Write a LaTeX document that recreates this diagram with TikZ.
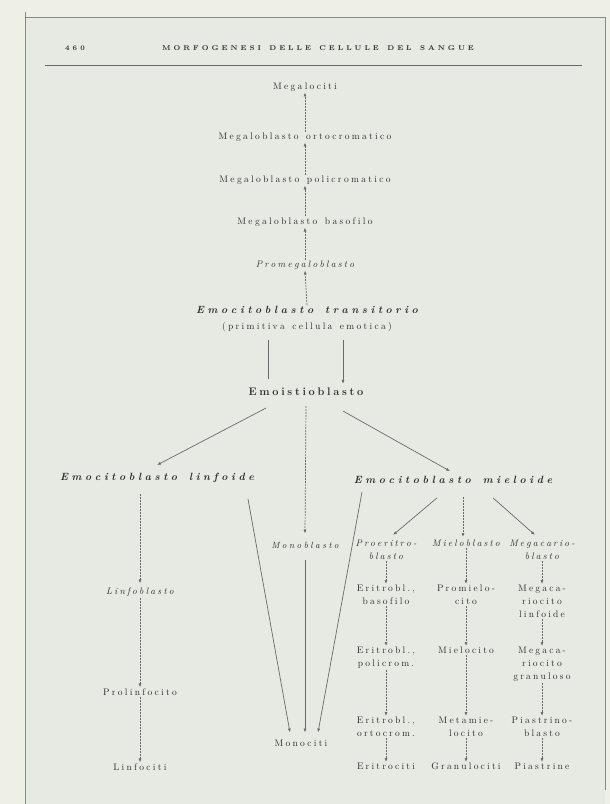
\documentclass[tikz,border=0pt]{standalone}
\usepackage{fontspec}
\usetikzlibrary{arrows.meta}
\definecolor{paper}{HTML}{E7EAE2}
\definecolor{margin}{HTML}{EEF0E6}
\definecolor{ink}{HTML}{2E2E2E}
\definecolor{rule}{HTML}{6A6A6A}
\def\lsamt{2pt}\def\lsgap{8pt}
\ExplSyntaxOn
\NewDocumentCommand\LS{m}{
  \seq_set_split:Nnn \l_tmpa_seq {~} {#1}
  \seq_map_indexed_inline:Nn \l_tmpa_seq
    { \int_compare:nNnT {##1} > {1} { \hspace{\lsgap} }
      \tl_map_inline:nn {##2} { ####1 \kern\lsamt } \kern-\lsamt }
}
\ExplSyntaxOff
\tikzset{
  base/.style={text=ink, inner sep=1pt},
  txt/.style={base, font=\fontsize{9.5}{13}\selectfont\def\lsamt{2.3pt}\def\lsgap{7.5pt}},
  itx/.style={base, font=\fontsize{9.5}{13}\selectfont\itshape\def\lsamt{2.2pt}\def\lsgap{7.5pt}},
  ttl/.style={base, font=\fontsize{10.5}{13}\selectfont\bfseries\itshape\def\lsamt{3.6pt}\def\lsgap{12pt}},
  bld/.style={base, font=\fontsize{11}{13}\selectfont\bfseries\def\lsamt{2.7pt}},
  sml/.style={base, anchor=north, align=center, font=\fontsize{9.5}{13}\selectfont\def\lsamt{2.2pt}},
  smi/.style={sml, font=\fontsize{9.5}{13}\selectfont\itshape\def\lsamt{2.1pt}},
  hdr/.style={base, font=\fontsize{7}{9}\selectfont\bfseries\def\lsamt{3pt}\def\lsgap{8.5pt}},
  ln/.style={draw=rule, line width=0.7pt},
  ar/.style={ln, -{Latex[length=4pt,width=3pt]}},
  dar/.style={ar, dash pattern=on 2pt off 1pt},
  frame/.style={draw=rule!80, line width=0.8pt},
}
\begin{document}
\begin{tikzpicture}[x=1pt,y=-1pt]
\useasboundingbox (0,0) rectangle (610,804);
\fill[margin] (0,0) rectangle (610,804);
\fill[paper] (25,17) rectangle (605,804);
% frame of the page
\draw[frame] (25,12) -- (25,804);
\draw[frame] (25,17) -- (605,17) -- (605,790);
\draw[ln, line width=0.9pt] (45,65) -- (582,65);

% header
\node[hdr] (pg) at (75,48) {\LS{460}};
\node[hdr] (hd) at (318,48) {\LS{MORFOGENESI DELLE CELLULE DEL SANGUE}};

% megaloblastic chain
\node[txt] (m1) at (305,87) {\LS{Megalociti}};
\node[txt] (m2) at (305,137) {\LS{Megaloblasto ortocromatico}};
\node[txt] (m3) at (305,180) {\LS{Megaloblasto policromatico}};
\node[txt] (m4) at (305,222) {\LS{Megaloblasto basofilo}};
\node[itx] (m5) at (305,265) {\LS{Promegaloblasto}};
\node[ttl] (tr) at (307,310) {\LS{Emocitoblasto transitorio}};
\node[txt] (trp) at (307,327) {\LS{(primitiva cellula emotica)}};
\node[bld] (emo) at (306,392) {\LS{Emoistioblasto}};

\draw[dar] (m2.north) -- (m1.south);
\draw[dar] (m3.north) -- (m2.south);
\draw[dar] (m4.north) -- (m3.south);
\draw[dar] (m5.north) -- (m4.south);
\draw[dar] (tr.north) -- (m5.south);

\draw[ln] ([xshift=-39pt,yshift=-7pt]trp.south) -- ([xshift=-38pt,yshift=8pt]emo.north);
\draw[ar] ([xshift=36pt,yshift=-7pt]trp.south) -- ([xshift=37pt,yshift=3pt]emo.north);

% second level
\node[ttl] (linf) at (157,478) {\LS{Emocitoblasto linfoide}};
\node[ttl] (mie) at (453,480) {\LS{Emocitoblasto mieloide}};
\node[itx, font=\fontsize{9}{12}\selectfont\itshape\def\lsamt{2.4pt}] (mono) at (305,545) {\LS{Monoblasto}};

\draw[ar] ([xshift=-40pt,yshift=-11pt]emo.south) -- ([yshift=7pt]linf.north);
\draw[dar] ([yshift=-9pt]emo.south) -- ([yshift=7pt]mono.north);
\draw[ar] ([xshift=37pt,yshift=-14pt]emo.south) -- ([xshift=-3pt,yshift=4pt]mie.north);

% lymphoid line
\node[itx] (lb) at (140,592) {\LS{Linfoblasto}};
\node[txt] (pl) at (140,692) {\LS{Prolinfocito}};
\node[txt] (lc) at (140,767) {\LS{Linfociti}};
\draw[dar] ([xshift=-17pt,yshift=-10pt]linf.south) -- ([yshift=3pt]lb.north);
\draw[dar] (lb.south) -- (pl.north);
\draw[dar] (pl.south) -- (lc.north);

% monocytes
\node[txt] (moc) at (301,743) {\LS{Monociti}};
\draw[ar] ([xshift=91pt,yshift=-15pt]linf.south) -- ([xshift=-11pt,yshift=6pt]moc.north);
\draw[ar] ([yshift=-11pt]mono.south) -- ([xshift=4pt,yshift=6pt]moc.north);
\draw[ar] ([xshift=-91pt,yshift=-7pt]mie.south) -- ([xshift=17pt,yshift=6pt]moc.north);

% myeloid columns
\node[smi] (pe) at (386,539) {\LS{Proeritro-}\\\LS{blasto}};
\node[smi] (mb) at (466,539) {\LS{Mieloblasto}};
\node[smi] (mk) at (542,539) {\LS{Megacario-}\\\LS{blasto}};

\draw[ar] ([xshift=-16pt,yshift=-13pt]mie.south) -- ([xshift=7pt,yshift=4pt]pe.north);
\draw[dar] ([xshift=10pt,yshift=-12pt]mie.south) -- ([xshift=-3pt,yshift=2pt]mb.north);
\draw[ar] ([xshift=40pt,yshift=-13pt]mie.south) -- ([xshift=-7pt,yshift=4pt]mk.north);

\node[sml] (eb) at (386,584) {\LS{Eritrobl.,}\\\LS{basofilo}};
\node[sml] (pm) at (466,584) {\LS{Promielo-}\\\LS{cito}};
\node[sml] (kl) at (542,584) {\LS{Megaca-}\\\LS{riocito}\\\LS{linfoide}};

\node[sml] (ep) at (386,646) {\LS{Eritrobl.,}\\\LS{policrom.}};
\node[sml] (mc) at (466,646) {\LS{Mielocito}};
\node[sml] (kg) at (542,646) {\LS{Megaca-}\\\LS{riocito}\\\LS{granuloso}};

\node[sml] (eo) at (386,716) {\LS{Eritrobl.,}\\\LS{ortocrom.}};
\node[sml] (mm) at (466,716) {\LS{Metamie-}\\\LS{locito}};
\node[sml] (pb) at (542,716) {\LS{Piastrino-}\\\LS{blasto}};

\node[sml] (er) at (386,762) {\LS{Eritrociti}};
\node[sml] (gr) at (466,762) {\LS{Granulociti}};
\node[sml] (pi) at (542,762) {\LS{Piastrine}};

\draw[dar] (pe.south) -- (eb.north);
\draw[dar] (eb.south) -- (ep.north);
\draw[dar] (ep.south) -- (eo.north);
\draw[dar] (eo.south) -- (er.north);

\draw[dar] (mb.south) -- (pm.north);
\draw[dar] (pm.south) -- (mc.north);
\draw[dar] (mc.south) -- (mm.north);
\draw[dar] (mm.south) -- (gr.north);

\draw[dar] (mk.south) -- (kl.north);
\draw[dar] (kl.south) -- (kg.north);
\draw[dar] (kg.south) -- (pb.north);
\draw[dar] (pb.south) -- (pi.north);
\end{tikzpicture}
\end{document}
